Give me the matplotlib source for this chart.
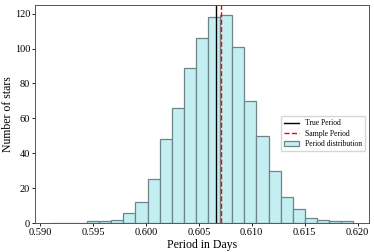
import numpy as np
import matplotlib
matplotlib.use('Agg')
import matplotlib.pyplot as plt

#%% data
# histogram of simulated periods (25 bins)
bin_lo = 0.5910
bin_hi = 0.6196
counts = [0, 0, 0, 1, 1, 2, 6, 12, 25, 48, 66, 89, 106, 118, 119,
          101, 70, 50, 30, 15, 8, 3, 2, 1, 1]
true_period = 0.60666
sample_period = 0.60706

edges = np.linspace(bin_lo, bin_hi, len(counts) + 1)
centers = (edges[:-1] + edges[1:]) / 2

#%% plot
plt.rcParams['font.family'] = ['Liberation Serif', 'DejaVu Serif']

fig = plt.figure(figsize=(3.74, 2.52), dpi=100)
ax = fig.add_axes([0.094, 0.115, 0.893, 0.865])

ax.hist(centers, bins=edges, weights=counts, facecolor='#c4eff2',
        edgecolor='#6e8587', linewidth=0.9, label='Period distribution')
ax.axvline(true_period, color='k', linewidth=1.0, label='True Period')
ax.axvline(sample_period, color='red', linestyle='--', linewidth=1.0,
           label='Sample Period')

ax.set_xlim(0.58953, 0.6211)
ax.set_xticks([0.590, 0.595, 0.600, 0.605, 0.610, 0.615, 0.620])
ax.set_xticklabels(['0.590', '0.595', '0.600', '0.605', '0.610', '0.615', '0.620'])
ax.tick_params(labelsize=7.5, length=2.5, width=0.6, pad=1.2)
ax.set_xlabel('Period in Days', fontsize=8.5, labelpad=1)
ax.set_ylabel('Number of stars', fontsize=8.5, labelpad=0.5)
for s in ax.spines.values():
    s.set_linewidth(0.7)
    s.set_color('#555555')

h, l = ax.get_legend_handles_labels()
order = [1, 2, 0]
ax.legend([h[i] for i in order], [l[i] for i in order], loc='center right',
          bbox_to_anchor=(1.0, 0.41), fontsize=5.5, borderpad=0.4,
          labelspacing=0.3, handlelength=2.0)

fig.savefig('out.png', dpi=100)
